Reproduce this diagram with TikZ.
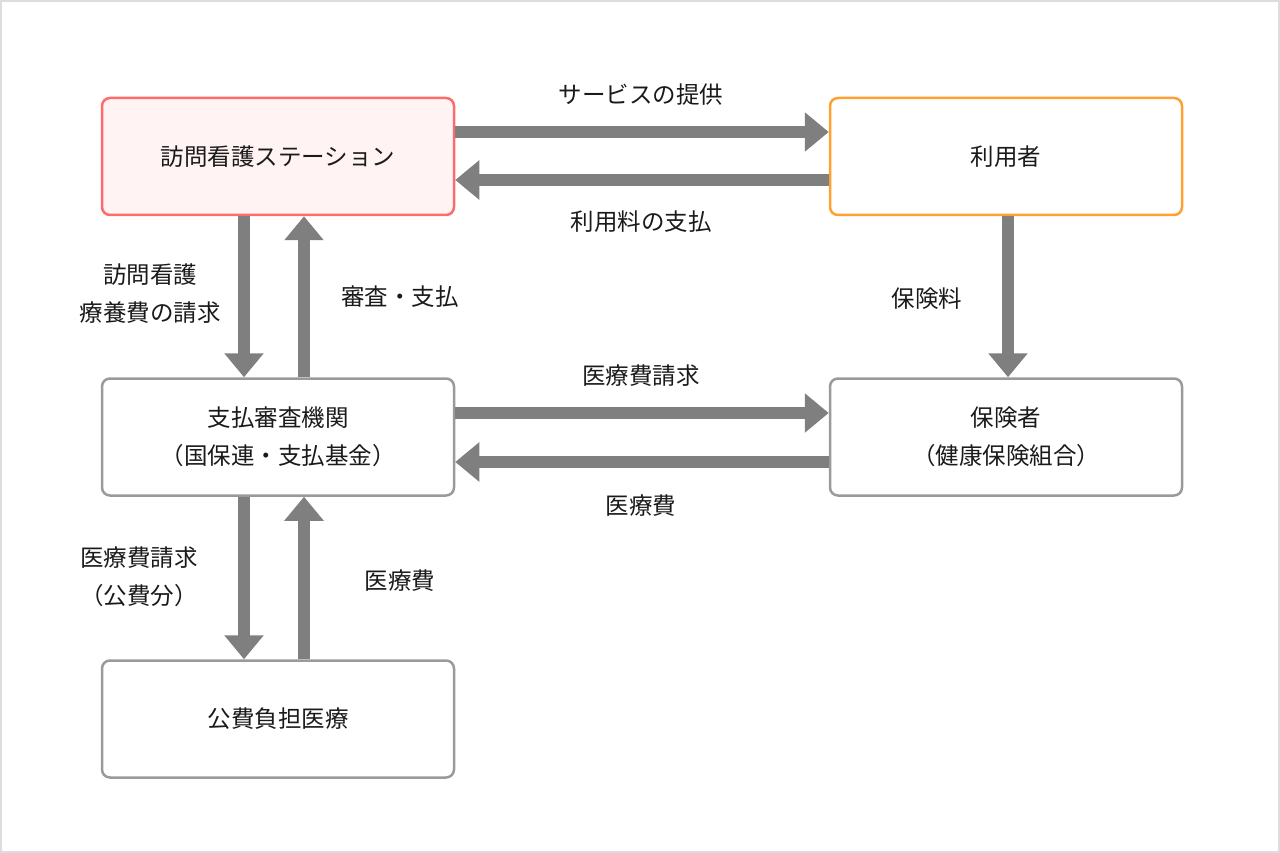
\documentclass[tikz,border=0pt]{standalone}
\usepackage{fontspec}
\setmainfont{Noto Sans CJK JP}
\usetikzlibrary{arrows.meta}
\definecolor{redb}{HTML}{FF6B6B}
\definecolor{redf}{HTML}{FFF4F3}
\definecolor{orab}{HTML}{FFA033}
\definecolor{grayb}{HTML}{9A9A9A}
\definecolor{arrc}{HTML}{7F7F7F}
\definecolor{txt}{HTML}{1A1A1A}
\definecolor{frame}{HTML}{DDDDDD}
\tikzset{
  box/.style={draw=grayb, line width=2.5pt, rounded corners=8pt, fill=white,
    minimum width=352pt, minimum height=117pt, inner sep=0pt, align=center,
    text=txt, font=\fontsize{23.5}{38}\selectfont},
  redbox/.style={box, draw=redb, fill=redf},
  orabox/.style={box, draw=orab},
  arr/.style={draw=arrc, line width=12pt, -{Triangle[width=38pt,length=24pt]}},
  lbl/.style={text=txt, font=\fontsize{23.5}{38}\selectfont, align=center, inner sep=0pt}
}
\begin{document}
\begin{tikzpicture}[x=1pt,y=-1pt]
\useasboundingbox (0,0) rectangle (1280,853);
\draw[frame, line width=2pt] (1,1) rectangle (1279,852);
\node[redbox] (st) at (278,156.5) {訪問看護ステーション};
\node[orabox] (us) at (1006,156.5) {利用者};
\node[box] (sh) at (278,437) {支払審査機関\\（国保連・支払基金）};
\node[box] (ho) at (1006,437) {保険者\\（健康保険組合）};
\node[box] (ko) at (278,719) {公費負担医療};
% top horizontal
\draw[arr] ([yshift=24.5pt]st.east) -- ([yshift=24.5pt]us.west);
\draw[arr] ([yshift=-23.5pt]us.west) -- ([yshift=-23.5pt]st.east);
% left vertical upper
\draw[arr] ([xshift=-34pt]st.south) -- ([xshift=-34pt]sh.north);
\draw[arr] ([xshift=26pt]sh.north) -- ([xshift=26pt]st.south);
% right vertical
\draw[arr] ([xshift=2pt]us.south) -- ([xshift=2pt]ho.north);
% middle horizontal
\draw[arr] ([yshift=24pt]sh.east) -- ([yshift=24pt]ho.west);
\draw[arr] ([yshift=-25pt]ho.west) -- ([yshift=-25pt]sh.east);
% lower vertical
\draw[arr] ([xshift=-34pt]sh.south) -- ([xshift=-34pt]ko.north);
\draw[arr] ([xshift=26pt]ko.north) -- ([xshift=26pt]sh.south);
% labels
\node[lbl] (l1) at (641,95) {サービスの提供};
\node[lbl] (l2) at (641,222) {利用料の支払};
\node[lbl] (l3) at (150,294) {訪問看護\\療養費の請求};
\node[lbl] (l4) at (400,297) {審査・支払};
\node[lbl] (l5) at (927,299) {保険料};
\node[lbl] (l6) at (641,376) {医療費請求};
\node[lbl] (l7) at (641,506) {医療費};
\node[lbl] (l8) at (139,577) {医療費請求\\（公費分）};
\node[lbl] (l9) at (400,581) {医療費};
\end{tikzpicture}
\end{document}
